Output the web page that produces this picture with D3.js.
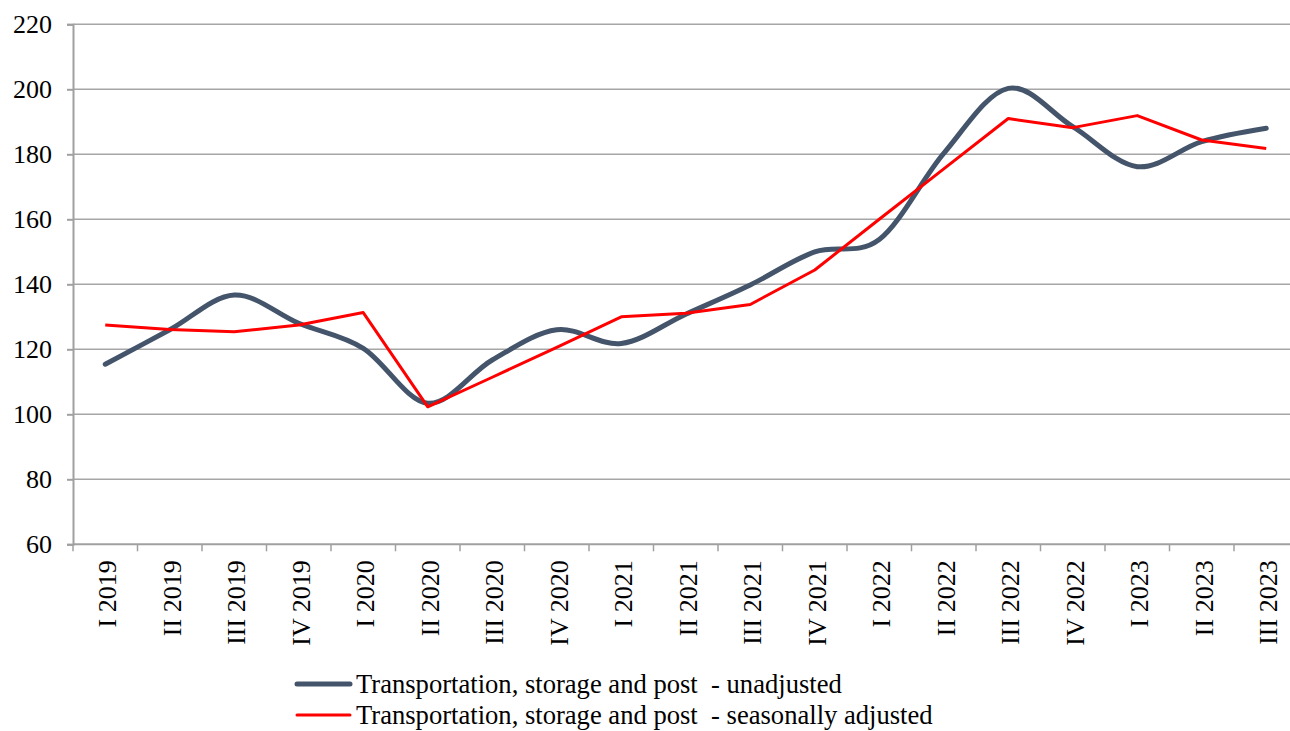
<!DOCTYPE html>
<html>
<head>
<meta charset="utf-8">
<script src="https://cdn.jsdelivr.net/npm/d3@7"></script>
<style>
  body { margin: 0; background: #fff; }
  svg text { font-family: "Liberation Serif", "DejaVu Serif", serif; fill: #000; }
</style>
</head>
<body>
<div id="chart"></div>
<script>
// Chart data
var quarters = ["I 2019", "II 2019", "III 2019", "IV 2019", "I 2020", "II 2020", "III 2020", "IV 2020",
  "I 2021", "II 2021", "III 2021", "IV 2021", "I 2022", "II 2022", "III 2022", "IV 2022",
  "I 2023", "II 2023", "III 2023"];
var unadjusted = [115.4, 126, 136.7, 128, 120.3, 103.4, 116.7, 126, 121.8, 130.8, 139.8, 150,
  153.8, 180.3, 200.3, 188.5, 176.2, 183.9, 188];
var seasonallyAdjusted = [127.5, 126.1, 125.4, 127.5, 131.3, 102.3, 111.4, 120.6, 130, 131.1, 133.8, 144.4,
  160, 175.5, 191, 188.2, 191.9, 184.4, 181.8];
var yTicks = [60, 80, 100, 120, 140, 160, 180, 200, 220];
var seriesNames = ["Transportation, storage and post  - unadjusted",
  "Transportation, storage and post  - seasonally adjusted"];

var svgWidth = 1290;
var svgHeight = 731;

var margin = { top: 24.3, right: -8.5, bottom: 186.7, left: 73 };
var width = svgWidth - margin.left - margin.right;
var height = svgHeight - margin.top - margin.bottom;
var serif = "'Liberation Serif', 'DejaVu Serif', serif";

var svg = d3.select("#chart")
  .append("svg")
  .attr("width", svgWidth)
  .attr("height", svgHeight)
  .attr("font-family", serif);

var chartGroup = svg.append("g")
  .attr("transform", `translate(${margin.left}, ${margin.top})`);

var xScale = d3.scaleBand().domain(quarters).range([0, width]);
var yScale = d3.scaleLinear().domain([60, 220]).range([height, 0]);

// gridlines
chartGroup.append("g")
  .selectAll("line")
  .data(yTicks.slice(1))
  .enter()
  .append("line")
  .attr("x1", 0)
  .attr("x2", width)
  .attr("y1", d => yScale(d))
  .attr("y2", d => yScale(d))
  .attr("stroke", "#a6a6a6")
  .attr("stroke-width", 1.5);

// y axis
var leftAxis = d3.axisLeft(yScale).tickValues(yTicks).tickSize(6).tickPadding(15);
var yAxis = chartGroup.append("g").call(leftAxis).attr("font-family", serif);
yAxis.select(".domain").attr("stroke", "#a0a0a0").attr("stroke-width", 2);
yAxis.selectAll(".tick line").attr("stroke", "#a0a0a0").attr("stroke-width", 2);
yAxis.selectAll(".tick text")
  .style("font-size", "26px")
  .style("font-family", serif);

// x axis: ticks sit between categories
var xAxisG = chartGroup.append("g").attr("transform", `translate(0, ${height})`);
xAxisG.append("line")
  .attr("x1", 0).attr("x2", width)
  .attr("stroke", "#a0a0a0").attr("stroke-width", 2);
xAxisG.selectAll(".xtick")
  .data(quarters)
  .enter()
  .append("line")
  .attr("x1", d => xScale(d))
  .attr("x2", d => xScale(d))
  .attr("y1", 0)
  .attr("y2", 7)
  .attr("stroke", "#a0a0a0")
  .attr("stroke-width", 1.5);
xAxisG.selectAll(".xlabel")
  .data(quarters)
  .enter()
  .append("text")
  .attr("transform", d => `translate(${xScale(d) + xScale.bandwidth() / 2 + 2}, 16) rotate(-90)`)
  .attr("dy", "0.35em")
  .attr("text-anchor", "end")
  .style("font-size", "26px")
  .style("font-family", serif)
  .text(d => d);

// lines
var xc = d => xScale(d) + xScale.bandwidth() / 2;

var smoothLine = d3.line()
  .x((d, i) => xc(quarters[i]))
  .y(d => yScale(d))
  .curve(d3.curveCardinal.tension(0));

var straightLine = d3.line()
  .x((d, i) => xc(quarters[i]))
  .y(d => yScale(d));

chartGroup.append("path")
  .datum(unadjusted)
  .attr("d", smoothLine)
  .attr("fill", "none")
  .attr("stroke", "#44546a")
  .attr("stroke-width", 5)
  .attr("stroke-linecap", "round");

chartGroup.append("path")
  .datum(seasonallyAdjusted)
  .attr("d", straightLine)
  .attr("fill", "none")
  .attr("stroke", "#ff0000")
  .attr("stroke-width", 3)
  .attr("stroke-linejoin", "round");

// legend
var legendColors = ["#44546a", "#ff0000"];
var legendWidths = [5, 3];
var legend = svg.append("g").attr("transform", "translate(297, 684)");
seriesNames.forEach(function (name, i) {
  var row = legend.append("g").attr("transform", `translate(0, ${i * 31})`);
  row.append("line")
    .attr("x1", 0).attr("x2", 53)
    .attr("stroke", legendColors[i])
    .attr("stroke-width", legendWidths[i])
    .attr("stroke-linecap", "round");
  row.append("text")
    .attr("x", 59)
    .attr("dy", "0.32em")
    .style("font-size", "26.6px")
    .style("font-family", serif)
    .style("white-space", "pre")
    .text(name);
});
</script>
</body>
</html>
